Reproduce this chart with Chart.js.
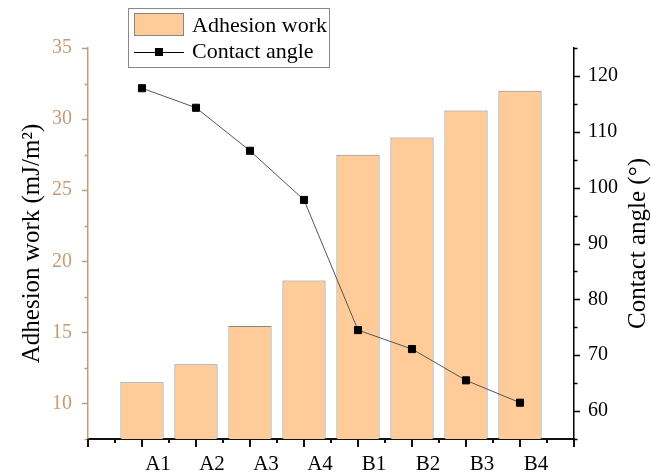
<!DOCTYPE html>
<html>
<head>
<meta charset="utf-8">
<script src="https://cdn.jsdelivr.net/npm/chart.js@4"></script>
<style>
  html, body { margin: 0; padding: 0; background: #fff; }
  #wrap { width: 652px; height: 476px; position: relative; }
</style>
</head>
<body>
<div id="wrap"><canvas id="chart"></canvas></div>
<script>
const categories = ['A1', 'A2', 'A3', 'A4', 'B1', 'B2', 'B3', 'B4'];
const adhesionWork = [11.5, 12.75, 15.45, 18.65, 27.5, 28.7, 30.6, 32.0];
const contactAngle = [117.8, 114.3, 106.6, 97.8, 74.5, 71.1, 65.5, 61.5];
const workTicks = [10, 15, 20, 25, 30, 35];
const angleTicks = [60, 70, 80, 90, 100, 110, 120];

const TAN = '#c39b76';
const SERIF = '"Liberation Serif", "Times New Roman", serif';
Chart.defaults.font.family = SERIF;

// major + minor tick marks on all three axes
const axisTicks = {
  id: 'axisTicks',
  afterDraw(chart) {
    const {ctx, chartArea} = chart;
    const {x, y, y1} = chart.scales;
    ctx.save();
    ctx.lineWidth = 1.5;

    ctx.strokeStyle = TAN;
    for (let v = y.min; v <= y.max + 1e-6; v += 2.5) {
      const p = Math.round(y.getPixelForValue(v)) + 0.5;
      const len = v % 5 === 0 ? 6 : 3.5;
      ctx.beginPath(); ctx.moveTo(chartArea.left, p); ctx.lineTo(chartArea.left - len, p); ctx.stroke();
    }

    ctx.strokeStyle = '#000';
    for (let v = y1.min; v <= y1.max + 1e-6; v += 5) {
      const p = Math.round(y1.getPixelForValue(v)) + 0.5;
      const len = v % 10 === 0 ? 6 : 3.5;
      ctx.beginPath(); ctx.moveTo(chartArea.right, p); ctx.lineTo(chartArea.right + len, p); ctx.stroke();
    }

    ctx.strokeStyle = '#111';
    ctx.lineWidth = 2;
    for (let i = 0; i <= (x.max - x.min) * 2; i++) {
      const v = x.min + i / 2;
      const p = Math.round(x.getPixelForValue(v));
      const len = i % 2 === 0 ? 8 : 4;
      ctx.beginPath(); ctx.moveTo(p, chartArea.bottom); ctx.lineTo(p, chartArea.bottom + len); ctx.stroke();
    }

    // right axis title reads bottom-to-top like the left one
    ctx.fillStyle = '#000';
    ctx.font = '25px ' + SERIF;
    ctx.textAlign = 'center';
    ctx.textBaseline = 'middle';
    ctx.translate(y1.right - 14, (chartArea.top + chartArea.bottom) / 2);
    ctx.rotate(-Math.PI / 2);
    ctx.fillText('Contact angle (°)', 0, 0);
    ctx.restore();
  }
};

// framed legend in the top-left corner
const boxLegend = {
  id: 'boxLegend',
  afterDraw(chart) {
    const {ctx} = chart;
    const line = chart.data.datasets[0];
    const bars = chart.data.datasets[1];
    ctx.save();
    ctx.fillStyle = '#fff';
    ctx.fillRect(128, 8, 201, 59);
    ctx.strokeStyle = '#8a8a8a';
    ctx.lineWidth = 1;
    ctx.strokeRect(128.5, 8.5, 201, 59);

    ctx.fillStyle = bars.backgroundColor;
    ctx.fillRect(134, 13, 50, 23);
    ctx.strokeStyle = bars.borderColor;
    ctx.strokeRect(134.5, 13.5, 49, 22);

    ctx.strokeStyle = '#000';
    ctx.beginPath(); ctx.moveTo(134, 52.5); ctx.lineTo(184, 52.5); ctx.stroke();
    ctx.fillStyle = '#000';
    ctx.fillRect(155, 48, 8, 8);

    ctx.font = '22px ' + SERIF;
    ctx.textBaseline = 'middle';
    ctx.fillText(bars.label, 192, 26);
    ctx.fillText(line.label, 192, 52);
    ctx.restore();
  }
};

new Chart(document.getElementById('chart'), {
  data: {
    datasets: [
      {
        type: 'line',
        label: 'Contact angle',
        data: contactAngle.map((v, i) => ({x: i, y: v})),
        yAxisID: 'y1',
        order: 0,
        borderColor: '#555',
        borderWidth: 1,
        tension: 0,
        pointStyle: 'rect',
        pointRadius: 5,
        pointBackgroundColor: '#000',
        pointBorderColor: '#000',
        pointBorderWidth: 1
      },
      {
        type: 'bar',
        label: 'Adhesion work',
        data: adhesionWork.map((v, i) => ({x: i, y: v})),
        yAxisID: 'y',
        order: 1,
        backgroundColor: '#ffcc99',
        borderColor: '#858585',
        borderWidth: 1,
        barPercentage: 0.8,
        categoryPercentage: 1
      }
    ]
  },
  options: {
    responsive: true,
    maintainAspectRatio: false,
    animation: false,
    layout: { padding: { top: 48, left: 0, right: 0, bottom: 0 } },
    plugins: {
      legend: { display: false },
      tooltip: { enabled: false }
    },
    scales: {
      x: {
        type: 'linear',
        min: -1,
        max: 8,
        offset: false,
        afterFit: s => { s.height = 37; },
        grid: { display: false, drawTicks: false, offset: false },
        border: { display: true, color: '#111', width: 2 },
        ticks: {
          stepSize: 1,
          autoSkip: false,
          maxRotation: 0,
          padding: 13,
          labelOffset: 16,
          color: '#000',
          font: { size: 21 },
          callback: v => categories[v] || ''
        }
      },
      y: {
        position: 'left',
        min: 7.5,
        max: 35,
        afterFit: s => { s.width = 88; },
        afterBuildTicks: s => { s.ticks = workTicks.map(v => ({value: v})); },
        grid: { display: false, drawTicks: false },
        border: { display: true, color: TAN, width: 1.5 },
        ticks: { padding: 16, color: TAN, font: { size: 20 } },
        title: {
          display: true,
          text: 'Adhesion work (mJ/m²)',
          color: '#000',
          font: { size: 25 },
          padding: { top: 17, bottom: 0 }
        }
      },
      y1: {
        position: 'right',
        min: 55,
        max: 125,
        afterFit: s => { s.width = 78; },
        afterBuildTicks: s => { s.ticks = angleTicks.map(v => ({value: v})); },
        grid: { display: false, drawTicks: false },
        border: { display: true, color: '#000', width: 1.5 },
        ticks: { padding: 14, color: '#000', font: { size: 20 } }
      }
    }
  },
  plugins: [axisTicks, boxLegend]
});
</script>
</body>
</html>
